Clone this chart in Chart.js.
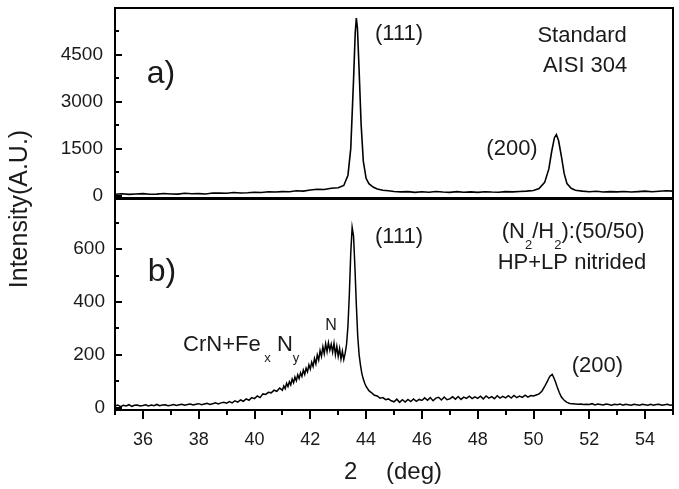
<!DOCTYPE html>
<html><head><meta charset="utf-8">
<script src="https://cdn.jsdelivr.net/npm/chart.js@4.4.0/dist/chart.umd.min.js"></script>
<style>
html,body{margin:0;padding:0;background:#fff;}
#wrap{position:relative;width:679px;height:489px;background:#fff;}
canvas{position:absolute;left:0;top:0;}
</style></head><body>
<div id="wrap"><canvas id="cTop" width="679" height="489"></canvas><canvas id="cBot" width="679" height="489"></canvas></div>
<script>
// ---------- data ----------
const topX = [35.0,35.25,35.5,35.75,36.0,36.25,36.5,36.75,37.0,37.25,37.5,37.75,38.0,38.25,38.5,38.75,39.0,39.25,39.5,39.75,
  40.0,40.25,40.5,40.75,41.0,41.25,41.5,41.75,42.0,42.25,42.5,42.75,43.0,43.2,43.35,43.45,43.55,43.61,43.65,43.69,43.75,43.82,43.9,
  44.0,44.1,44.25,44.4,44.6,44.8,45.0,45.25,45.5,45.75,46.0,46.25,46.5,46.75,47.0,47.25,47.5,47.75,48.0,48.25,48.5,48.75,
  49.0,49.25,49.5,49.75,50.0,50.2,50.4,50.55,50.65,50.75,50.82,50.9,51.0,51.1,51.2,51.35,51.5,51.75,52.0,52.25,52.5,52.75,
  53.0,53.25,53.5,53.75,54.0,54.25,54.5,54.75,55.0];
const topY = [40,55,35,50,60,40,45,65,50,45,70,55,60,50,80,75,70,95,80,90,
  105,95,120,110,125,120,150,140,175,200,190,230,250,320,650,1500,3700,5200,5680,5350,4000,2300,1100,
  550,380,270,210,170,150,130,115,125,100,120,105,130,110,100,125,105,115,100,120,110,105,
  125,115,130,140,160,220,420,850,1400,1850,1950,1750,1250,700,380,230,170,140,120,135,110,125,
  115,130,110,125,140,120,135,150,140];

const botX = [35.0,35.1,35.2,35.3,35.4,35.5,35.6,35.7,35.8,35.9,
  36.0,36.1,36.2,36.3,36.4,36.5,36.6,36.7,36.8,36.9,
  37.0,37.1,37.2,37.3,37.4,37.5,37.6,37.7,37.8,37.9,
  38.0,38.1,38.2,38.3,38.4,38.5,38.6,38.7,38.8,38.9,
  39.0,39.1,39.2,39.3,39.4,39.5,39.6,39.7,39.8,39.9,
  40.0,40.1,40.2,40.3,40.4,40.5,40.6,40.7,40.8,40.9,
  41.0,41.05,41.1,41.15,41.2,41.25,41.3,41.35,41.4,41.45,41.5,41.55,41.6,41.65,41.7,41.75,41.8,41.85,41.9,41.95,
  42.0,42.05,42.1,42.15,42.2,42.25,42.3,42.35,42.4,42.45,42.5,42.55,42.6,42.65,42.7,42.75,42.8,42.85,42.9,42.95,
  43.0,43.05,43.1,43.15,43.2,43.25,43.3,43.35,43.4,43.45,43.5,43.55,43.6,43.65,43.7,43.75,43.8,43.85,43.9,43.95,
  44.0,44.1,44.2,44.3,44.4,44.5,44.6,44.7,44.8,44.9,
  45.0,45.1,45.2,45.3,45.4,45.5,45.6,45.7,45.8,45.9,
  46.0,46.1,46.2,46.3,46.4,46.5,46.6,46.7,46.8,46.9,
  47.0,47.1,47.2,47.3,47.4,47.5,47.6,47.7,47.8,47.9,
  48.0,48.1,48.2,48.3,48.4,48.5,48.6,48.7,48.8,48.9,
  49.0,49.1,49.2,49.3,49.4,49.5,49.6,49.7,49.8,49.9,
  50.0,50.1,50.2,50.3,50.4,50.5,50.55,50.6,50.67,50.72,50.78,50.85,50.92,51.0,51.1,51.2,51.3,51.4,51.5,51.6,51.7,51.8,51.9,
  52.0,52.1,52.2,52.3,52.4,52.5,52.6,52.7,52.8,52.9,
  53.0,53.1,53.2,53.3,53.4,53.5,53.6,53.7,53.8,53.9,
  54.0,54.1,54.2,54.3,54.4,54.5,54.6,54.7,54.8,54.9,55.0];
const botY = [6,10,4,9,6,11,5,9,10,6,
  8,11,6,10,7,12,7,10,11,7,
  9,12,8,11,13,9,12,14,10,13,
  15,11,14,16,12,15,18,14,18,20,
  17,23,18,26,21,29,24,33,28,38,
  34,44,38,52,50,58,56,66,62,74,
  66,82,72,92,80,98,86,108,94,116,102,124,110,132,118,142,126,150,136,162,
  146,172,156,186,166,200,180,216,194,230,204,242,212,246,218,240,210,244,200,232,
  194,224,184,214,182,206,240,310,430,585,683,650,530,390,270,200,160,128,108,92,
  80,64,56,47,44,36,38,30,33,26,
  22,32,20,30,21,31,23,33,24,31,
  27,37,28,38,26,36,39,29,40,30,
  33,41,32,42,31,40,35,43,34,41,
  35,43,33,44,36,42,34,45,36,43,
  37,45,36,46,38,44,39,47,40,46,
  44,48,52,62,80,100,112,120,126,115,100,78,58,40,28,20,16,15,14,13,14,12,13,
  12,15,10,14,12,10,14,12,9,13,
  11,14,9,13,11,9,13,11,9,13,
  11,9,13,9,12,13,9,11,13,9,11];

const xTicks = [36,38,40,42,44,46,48,50,52,54];
const xMinorTicks = [35,37,39,41,43,45,47,49,51,53,55];
const topYTicks = [0,1500,3000,4500];
const topYMinor = [750,2250,3750,5250];
const botYTicks = [0,200,400,600];
const botYMinor = [100,300,500,700];

// annotation anchors in data coordinates
const topNotes = [
  {t:'a)', x:36.65, y:3888, size:32},
  {t:'(111)', x:45.18, y:5168, size:22},
  {t:'Standard', x:51.74, y:5104, size:22},
  {t:'AISI 304', x:51.85, y:4144, size:22},
  {t:'(200)', x:49.23, y:1488, size:22}
];
const botNotes = [
  {t:'b)', x:36.68, y:514, size:32},
  {t:'(111)', x:45.18, y:646, size:22},
  {t:'HP+LP nitrided', x:51.38, y:548, size:22},
  {t:'(200)', x:52.29, y:158, size:22},
  {t:'N', x:42.74, y:309, size:16}
];
const richNotes = [
  {parts:[['(N',0],['2',1],['/H',0],['2',1],['):(50/50)',0]], x:51.42, y:665, align:'center'},
  {parts:[['CrN+Fe',0],[' x',1],[' N',0],['y',1]], x:37.44, y:237, align:'left'}
];

const FONT = '"Liberation Sans", Arial, Helvetica, sans-serif';
const INK = '#1a1a1a';

function pts(xs, ys){ return xs.map((v,i)=>({x:v, y:ys[i]})); }

function framePlugin(yMaj, yMin, xMaj, xMin, notes, rich, extra){
  return {
    id:'frame',
    afterDraw(chart){
      const ctx = chart.ctx, a = chart.chartArea, sx = chart.scales.x, sy = chart.scales.y;
      ctx.save();
      ctx.strokeStyle = '#000'; ctx.lineWidth = 2;
      ctx.strokeRect(a.left, a.top, a.right-a.left, a.bottom-a.top);
      ctx.beginPath();
      yMaj.forEach(v=>{ const p = Math.round(sy.getPixelForValue(v)); ctx.moveTo(a.left, p); ctx.lineTo(a.left+7, p); });
      yMin.forEach(v=>{ const p = Math.round(sy.getPixelForValue(v)); ctx.moveTo(a.left, p); ctx.lineTo(a.left+4, p); });
      if (xMaj) {
        xMaj.forEach(v=>{ const p = Math.round(sx.getPixelForValue(v)); ctx.moveTo(p, a.bottom); ctx.lineTo(p, a.bottom+9); });
        xMin.forEach(v=>{ const p = Math.round(sx.getPixelForValue(v)); ctx.moveTo(p, a.bottom); ctx.lineTo(p, a.bottom+5); });
      }
      ctx.stroke();
      ctx.fillStyle = INK; ctx.textBaseline = 'middle';
      notes.forEach(n=>{
        ctx.font = n.size + 'px ' + FONT; ctx.textAlign = 'center';
        ctx.fillText(n.t, sx.getPixelForValue(n.x), sy.getPixelForValue(n.y));
      });
      rich.forEach(r=>{
        const fMain = '22px ' + FONT, fSub = '13px ' + FONT;
        let w = 0;
        r.parts.forEach(p=>{ ctx.font = p[1] ? fSub : fMain; w += ctx.measureText(p[0]).width; });
        let cx = sx.getPixelForValue(r.x); const cy = sy.getPixelForValue(r.y);
        if (r.align === 'center') cx -= w/2;
        ctx.textAlign = 'left';
        r.parts.forEach(p=>{
          ctx.font = p[1] ? fSub : fMain;
          ctx.fillText(p[0], cx, cy + (p[1] ? 13 : 0));
          cx += ctx.measureText(p[0]).width;
        });
      });
      if (extra) extra(chart, ctx);
      ctx.restore();
    }
  };
}

const lineDs = (xs, ys, w) => ({
  data: pts(xs, ys), borderColor:'#000', borderWidth:w, pointRadius:0, tension:0, fill:false
});
const noPad = s => { s.paddingTop = 0; s.paddingBottom = 0; s.paddingLeft = 0; s.paddingRight = 0; };
const plain = v => String(v);

// ---------- top panel ----------
new Chart(document.getElementById('cTop'), {
  type:'line',
  data:{ datasets:[lineDs(topX, topY, 1.6)] },
  options:{
    responsive:false, animation:false, maintainAspectRatio:false,
    layout:{ padding:{top:8, right:6, bottom:291, left:0} },
    plugins:{ legend:{display:false}, tooltip:{enabled:false} },
    scales:{
      x:{ type:'linear', min:35, max:55, display:false },
      y:{ type:'linear', min:-80, max:6000,
          afterFit(s){ s.width = 115; noPad(s); },
          afterBuildTicks(s){ s.ticks = topYTicks.map(v=>({value:v})); },
          grid:{ display:false, drawTicks:false }, border:{ display:false },
          ticks:{ color:INK, font:{family:FONT, size:19}, padding:12, callback:plain } }
    }
  },
  plugins:[framePlugin(topYTicks, topYMinor, null, null, topNotes, [], null)]
});

// ---------- bottom panel ----------
new Chart(document.getElementById('cBot'), {
  type:'line',
  data:{ datasets:[lineDs(botX, botY, 1.5)] },
  options:{
    responsive:false, animation:false, maintainAspectRatio:false,
    layout:{ padding:{top:199, right:6, bottom:0, left:0} },
    plugins:{ legend:{display:false}, tooltip:{enabled:false} },
    scales:{
      x:{ type:'linear', min:35, max:55,
          afterFit(s){ s.height = 79; noPad(s); },
          afterBuildTicks(s){ s.ticks = xTicks.map(v=>({value:v})); },
          grid:{ display:false }, border:{ display:false },
          ticks:{ color:INK, font:{family:FONT, size:18}, padding:11, maxRotation:0, callback:plain } },
      y:{ type:'linear', min:-9, max:790,
          afterFit(s){ s.width = 115; noPad(s); },
          afterBuildTicks(s){ s.ticks = botYTicks.map(v=>({value:v})); },
          grid:{ display:false, drawTicks:false }, border:{ display:false },
          ticks:{ color:INK, font:{family:FONT, size:19}, padding:10, callback:plain } }
    }
  },
  plugins:[framePlugin(botYTicks, botYMinor, xTicks, xMinorTicks, botNotes, richNotes, (chart, ctx)=>{
    ctx.fillStyle = INK; ctx.textBaseline = 'middle';
    // x-axis title
    ctx.font = '24px ' + FONT; ctx.textAlign = 'left';
    ctx.fillText('2', 344, 472);
    ctx.fillText('(deg)', 386, 472);
    // y-axis title spanning both panels
    ctx.save();
    ctx.translate(20, 209); ctx.rotate(-Math.PI/2);
    ctx.font = '25px ' + FONT; ctx.textAlign = 'center';
    ctx.fillText('Intensity(A.U.)', 0, 0);
    ctx.restore();
  })]
});
</script>
</body></html>
